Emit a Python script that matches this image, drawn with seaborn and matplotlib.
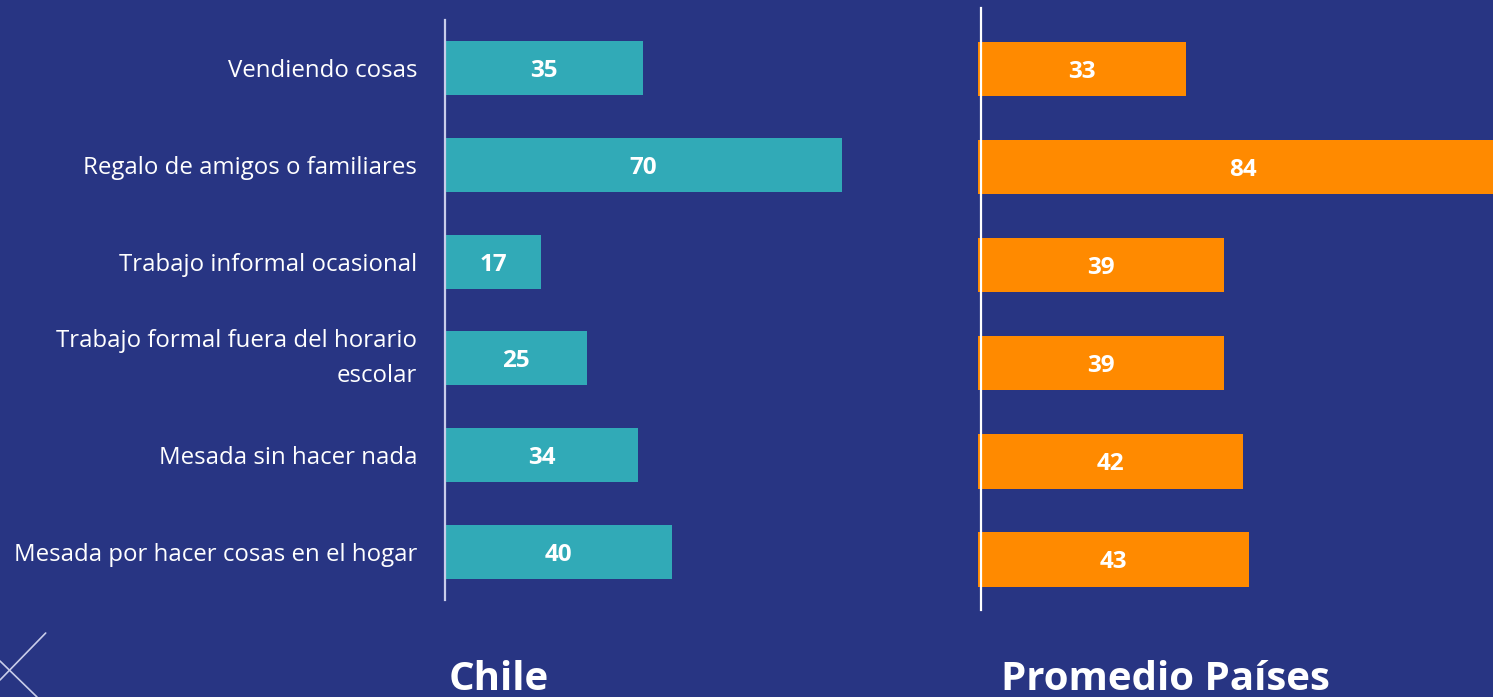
import matplotlib
matplotlib.use("Agg")
import matplotlib.pyplot as plt
import seaborn as sns
import pandas as pd
from matplotlib.lines import Line2D

categories = [
    "Vendiendo cosas",
    "Regalo de amigos o familiares",
    "Trabajo informal ocasional",
    "Trabajo formal fuera del horario\nescolar",
    "Mesada sin hacer nada",
    "Mesada por hacer cosas en el hogar",
]
chile = [35, 70, 17, 25, 34, 40]
promedio = [33, 84, 39, 39, 42, 43]
titles = ["Chile", "Promedio Países"]

BG = "#283583"
TEAL = "#31AAB7"
ORANGE = "#FF8A00"

sns.set_theme(style="white")
plt.rcParams["font.family"] = ["Open Sans", "DejaVu Sans"]

W, H = 1493, 697
fig = plt.figure(figsize=(W / 100, H / 100), dpi=100, facecolor=BG)

def px_axes(x0, x1, y0, y1):
    return fig.add_axes([x0 / W, 1 - y1 / H, (x1 - x0) / W, (y1 - y0) / H])

df_c = pd.DataFrame({"cat": categories, "val": chile})
df_p = pd.DataFrame({"cat": categories, "val": promedio})

# Left panel (Chile)
ax1 = px_axes(445, 445 + 600, 20, 600)
sns.barplot(data=df_c, x="val", y="cat", color=TEAL, saturation=1, width=0.56,
            ax=ax1, edgecolor="none")
ax1.set_xlim(0, 600 / 5.67)
ax1.set_ylim(5.5, -0.5)

# Right panel (Promedio)
ax2 = px_axes(978, 1493, 8, 610)
sns.barplot(data=df_p, x="val", y="cat", color=ORANGE, saturation=1, width=0.556,
            ax=ax2, edgecolor="none")
ax2.set_xlim(0, 515 / 6.3)
ax2.set_ylim(5.515, -0.62)

for ax, vals, lc in [(ax1, chile, "#C9CDEA"), (ax2, promedio, "white")]:
    ax.set_facecolor("none")
    ax.set_xlabel("")
    ax.set_ylabel("")
    ax.set_xticks([])
    for s in ["top", "right", "bottom"]:
        ax.spines[s].set_visible(False)
    ax.spines["left"].set_color(lc)
    ax.spines["left"].set_linewidth(1.6)
    for i, v in enumerate(vals):
        ax.text(v / 2, i + 0.03, str(v), ha="center", va="center", color="white",
                fontsize=17.5, fontweight="bold", clip_on=False)

ax2.spines["left"].set_position(("data", 3 / 6.3))
ax2.set_yticks([])

ax1.tick_params(axis="y", length=0, pad=20, labelsize=17.3, labelcolor="white")
for t in ax1.get_yticklabels():
    t.set_ha("right")
    t.set_linespacing(1.62)
    if "\n" in t.get_text():
        t.set_va("center")

# Titles
fig.text(499 / W, 1 - 680 / H, titles[0], ha="center", va="center",
         color="white", fontsize=29, fontweight="bold")
fig.text(1165 / W, 1 - 680 / H, titles[1], ha="center", va="center",
         color="white", fontsize=29, fontweight="bold")

# Decorative lines
deco = "#C9CDEA"
fig.add_artist(Line2D([45.7 / W, 0], [1 - 633 / H, 1 - 680 / H],
                      transform=fig.transFigure, color=deco, lw=1.2))
fig.add_artist(Line2D([0, 37 / W], [1 - 661 / H, 1 - 697 / H],
                      transform=fig.transFigure, color=deco, lw=1.2))

fig.savefig("out.png", dpi=100, facecolor=BG)
